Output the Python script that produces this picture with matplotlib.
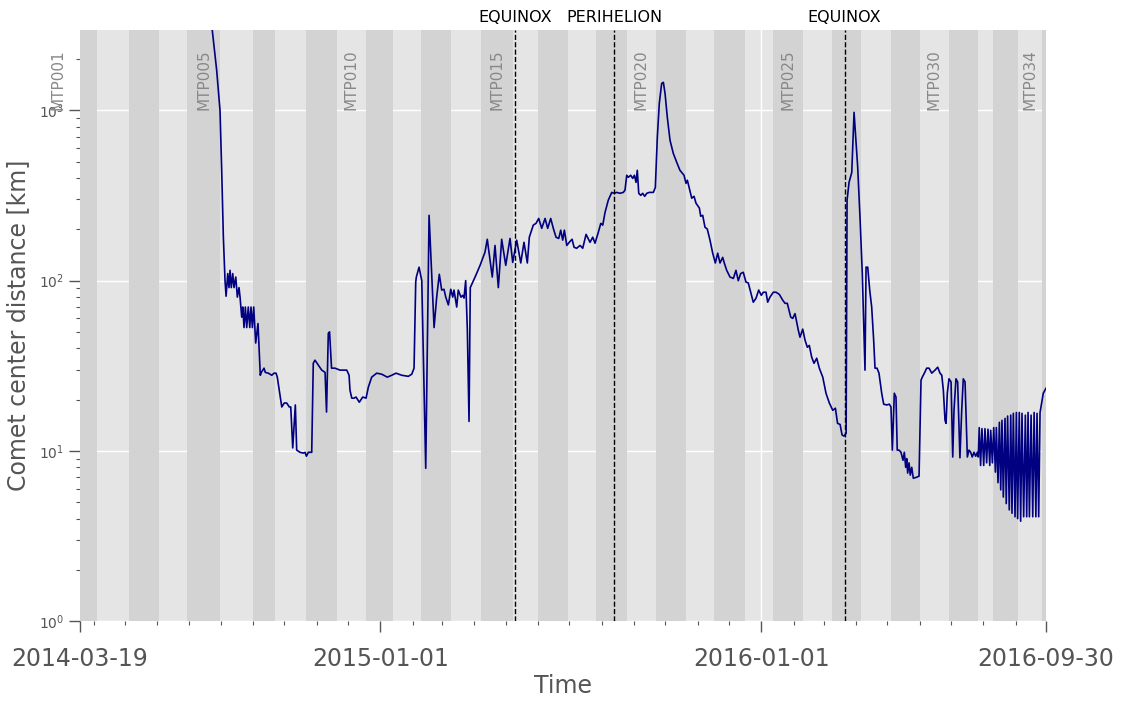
import pandas as pd
import matplotlib
matplotlib.use("Agg")
import matplotlib.pyplot as plt
import matplotlib.dates as mdates

# distance of the spacecraft to the comet centre
# day = days after 2014-03-19
day = [120.0, 126.8, 131.0, 134.2, 135.8, 137.4, 139.0, 140.0, 141.6, 142.8,
       143.8, 145.0, 146.4, 147.6, 149.3, 150.8, 152.4, 153.4, 155.0, 156.0,
       157.2, 158.5, 159.8, 161.3, 162.7, 163.9, 165.2, 166.5, 168.4, 170.6,
       172.8, 173.8, 176.4, 177.6, 180.5, 183.8, 186.0, 187.9, 189.1, 191.0,
       193.4, 195.8, 198.1, 200.6, 202.0, 203.9, 206.4, 207.7, 210.9, 214.1,
       215.7, 217.0, 218.9, 222.1, 223.6, 225.2, 228.4, 231.7, 234.9, 236.3,
       238.0, 239.2, 241.1, 244.4, 249.2, 255.7, 257.9, 258.8, 260.5, 262.7,
       264.6, 267.7, 271.0, 274.2, 276.4, 279.6, 284.4, 289.2, 294.6, 298.8,
       302.9, 308.4, 314.7, 318.0, 320.2, 321.8, 322.4, 325.0, 327.6, 331.4,
       334.6, 339.4, 341.9, 344.4, 346.7, 348.9, 350.6, 353.1, 355.4, 357.3,
       358.5, 361.1, 362.6, 365.2, 366.9, 368.1, 369.7, 371.3, 372.9, 374.1,
       378.7, 383.5, 388.2, 390.4, 393.0, 395.2, 397.8, 401.0, 404.2, 408.1,
       412.2, 414.8, 418.6, 422.5, 425.6, 428.8, 430.7, 434.5, 437.1, 439.7,
       442.6, 445.8, 448.3, 451.2, 453.7, 456.3, 458.9, 460.8, 462.7, 464.3,
       466.6, 469.0, 471.7, 473.6, 476.1, 479.3, 481.9, 485.1, 488.9, 491.5,
       493.7, 496.8, 499.2, 501.1, 503.3, 506.4, 509.7, 511.9, 514.5, 517.6,
       520.8, 522.4, 524.1, 525.6, 527.9, 529.8, 531.4, 533.0, 534.2, 535.6,
       537.5, 539.4, 541.3, 543.3, 545.7, 549.6, 551.5, 553.4, 555.3, 557.6,
       559.2, 560.8, 563.0, 565.6, 568.7, 572.0, 575.1, 579.0, 580.9, 582.2,
       584.1, 586.4, 588.6, 590.5, 593.7, 595.0, 596.9, 599.1, 601.3, 603.9,
       606.5, 609.0, 611.3, 613.5, 616.1, 617.6, 619.9, 623.1, 626.3, 628.8,
       631.0, 633.3, 635.8, 638.4, 640.6, 642.9, 645.4, 648.0, 650.6, 653.1,
       655.0, 657.6, 659.2, 661.4, 664.6, 667.2, 670.4, 673.6, 675.8, 678.0,
       681.3, 683.2, 685.4, 688.6, 690.2, 692.8, 695.0, 697.2, 699.1, 701.4,
       703.6, 706.2, 708.7, 712.0, 715.1, 718.3, 721.6, 724.1, 726.2, 728.6,
       730.5, 732.4, 734.4, 735.3, 737.2, 739.8, 742.0, 743.6, 745.5, 747.7,
       749.9, 752.5, 753.5, 755.1, 757.0, 758.9, 760.8, 762.1, 764.0, 765.9,
       768.5, 770.4, 773.3, 775.8, 777.4, 778.7, 780.6, 782.2, 783.4, 785.1,
       787.0, 788.9, 790.2, 791.5, 792.5, 793.4, 794.7, 795.9, 797.3, 798.8,
       802.1, 804.3, 806.2, 807.4, 809.4, 811.6, 813.9, 816.5, 819.6, 822.2,
       824.4, 826.1, 827.6, 829.2, 830.2, 831.4, 833.0, 835.0, 836.6, 837.8,
       839.7, 841.3, 843.5, 845.2, 846.7, 848.4, 850.6, 852.2, 853.8, 855.3,
       857.0, 858.6, 860.2, 861.1, 862.0, 863.3, 864.6, 866.3, 867.5, 869.1,
       870.4, 872.1, 873.0, 874.6, 875.9, 877.5, 878.4, 880.0, 881.3, 882.6,
       883.8, 885.1, 886.7, 887.9, 889.2, 890.8, 892.2, 893.4, 894.7, 896.3,
       897.6, 898.8, 900.4, 901.7, 903.0, 904.6, 906.2, 907.5, 908.8, 910.1,
       911.7, 913.3, 914.6, 916.3, 917.4, 919.0, 920.3, 921.5, 923.4, 926.0]

dist_km = [5000, 2950, 1720, 1000, 445, 180, 100, 81, 110, 91,
           115, 91, 110, 91, 105, 80, 91, 80, 61, 70,
           53, 70, 53, 70, 53, 70, 53, 70, 43, 56,
           27.8, 28.9, 30.6, 28.9, 28.6, 27.8, 28.6, 28.6, 27.1, 22.7,
           18.1, 19.1, 19.1, 18.1, 18.1, 10.4, 18.6, 10.1, 9.8, 9.7,
           9.8, 9.3, 9.8, 9.8, 32.7, 34.1, 31.9, 29.8, 28.9, 16.9,
           49, 50, 30.6, 30.6, 29.8, 29.8, 27.8, 22.7, 20.4, 20.4,
           20.7, 19.3, 20.7, 20.4, 23.7, 27.1, 28.6, 28.2, 27.1, 27.8,
           28.6, 27.8, 27.4, 28.2, 30.6, 98, 105, 120, 100, 7.9,
           242, 53, 80, 109, 88, 89, 80, 72, 89, 80,
           88, 70, 88, 80, 82, 79, 100, 51, 14.9, 91,
           105, 123, 147, 175, 132, 105, 161, 91, 175, 123,
           177, 128, 173, 127, 168, 127, 180, 212, 217, 232,
           203, 232, 203, 232, 203, 180, 177, 198, 173, 198,
           161, 168, 175, 157, 155, 161, 155, 187, 168, 180,
           166, 192, 217, 212, 252, 297, 330, 326, 330, 326,
           330, 340, 416, 405, 416, 399, 416, 378, 445, 326,
           317, 326, 313, 326, 330, 330, 353, 695, 1100, 1443,
           1463, 1260, 910, 667, 560, 496, 445, 416, 373, 389,
           349, 305, 313, 285, 267, 239, 242, 206, 201, 173,
           145, 127, 145, 127, 137, 127, 115, 105, 103, 115,
           100, 110, 112, 98, 97, 85.5, 74.7, 78.8, 88, 82,
           85.5, 85.5, 74.7, 80, 85.5, 85.5, 83, 76.8, 73.6, 73.6,
           61, 60, 64, 51, 46.5, 51.9, 44.7, 40.6, 41.6, 35.5,
           32.7, 35.0, 30.6, 27.1, 21.8, 19.1, 17.3, 17.8, 14.5, 14.3,
           12.4, 12.2, 12.7, 297, 378, 432, 975, 695, 463, 236,
           110, 29.8, 120, 120, 88, 70, 44.7, 30.6, 30.6, 28.6,
           21.8, 18.8, 18.6, 18.8, 18.1, 10.1, 21.8, 20.7, 10.1, 10.1,
           9.8, 8.8, 9.8, 8.0, 9.0, 7.4, 8.5, 7.2, 8.0, 6.9,
           7.0, 7.1, 26.0, 27.1, 28.6, 30.6, 30.6, 28.6, 29.8, 31.0,
           28.6, 27.8, 22.7, 15.1, 14.5, 21.8, 26.5, 25.4, 9.2, 17.3,
           26.5, 25.4, 9.1, 17.3, 26.5, 25.4, 9.2, 10.1, 9.8, 9.2,
           9.8, 9.3, 9.8, 9.2, 13.7, 8.2, 13.5, 8.2, 13.5, 8.5,
           13.4, 8.2, 13.2, 8.5, 13.7, 7.5, 13.7, 6.5, 14.7, 5.9,
           15.1, 5.35, 15.5, 4.9, 16.0, 4.5, 16.2, 4.3, 16.6, 4.1,
           16.8, 4.0, 16.8, 3.86, 16.6, 4.1, 16.2, 4.1, 16.8, 4.1,
           16.2, 4.1, 16.8, 4.1, 16.6, 4.1, 16.8, 18.6, 21.8, 23.3]

# medium term planning periods (start dates)
mtp_starts = ["2014-01-20", "2014-04-04", "2014-05-05", "2014-06-03", "2014-06-30",
              "2014-07-31", "2014-09-01", "2014-09-22", "2014-10-22", "2014-11-20",
              "2014-12-18", "2015-01-13", "2015-02-09", "2015-03-10", "2015-04-07",
              "2015-05-08", "2015-06-01", "2015-06-30", "2015-07-27", "2015-08-25",
              "2015-09-22", "2015-10-21", "2015-11-17", "2015-12-16", "2016-01-12",
              "2016-02-10", "2016-03-09", "2016-04-06", "2016-05-04", "2016-06-01",
              "2016-06-29", "2016-07-27", "2016-08-10", "2016-09-03", "2016-09-26",
              "2016-10-20"]
mtp_labelled = [1, 5, 10, 15, 20, 25, 30, 34]

event_dates = ["2015-05-10", "2015-08-13", "2016-03-21"]
event_names = ["EQUINOX", "PERIHELION", "EQUINOX"]

t0 = pd.Timestamp("2014-03-19")
t1 = pd.Timestamp("2016-09-30")
major_dates = ["2014-03-19", "2015-01-01", "2016-01-01", "2016-09-30"]

plt.rcParams['font.family'] = ['DejaVu Sans']
txt = '#555555'

fig = plt.figure(figsize=(11.24, 7.01), dpi=100)
ax = fig.add_axes([0.0712, 0.1141, 0.8594, 0.8431])
ax.set_facecolor('#E5E5E5')
for s in ax.spines.values():
    s.set_visible(False)
ax.set_axisbelow(True)
ax.grid(True, which='major', color='white', lw=1.0)

# MTP bands: odd ones darker
starts = pd.to_datetime(mtp_starts)
for i in range(len(starts) - 1):
    num = i + 1
    if num % 2 == 1:
        ax.axvspan(starts[i], starts[i + 1], color='#D3D3D3', lw=0, zorder=1)
    if num in mtp_labelled:
        mid = starts[i] + (starts[i + 1] - starts[i]) / 2
        ax.text(mid, 1000, "MTP%03d" % num, rotation=90, ha='center', va='bottom',
                fontsize=11, color='#888888', zorder=2)

dates = t0 + pd.to_timedelta(day, unit='D')
ax.plot(dates, dist_km, color='navy', lw=1.2, zorder=3)

for d, name in zip(event_dates, event_names):
    d = pd.Timestamp(d)
    ax.axvline(d, color='black', ls='--', lw=1.0, zorder=4)
    ax.text(d, 1.008, name, transform=ax.get_xaxis_transform(), ha='center',
            va='bottom', fontsize=11.5, color='black')

ax.set_yscale('log')
ax.set_ylim(1, 2970)
ax.set_xlim(t0, t1)

ax.set_xticks(pd.to_datetime(major_dates))
ax.xaxis.set_major_formatter(mdates.DateFormatter('%Y-%m-%d'))
ax.xaxis.set_minor_locator(mdates.MonthLocator())

ax.tick_params(axis='x', which='major', direction='out', length=8, width=1,
               colors=txt, labelsize=17, pad=11)
ax.tick_params(axis='x', which='minor', direction='out', length=3, width=0.8, colors=txt)
ax.tick_params(axis='y', which='major', direction='out', length=8, width=1,
               colors=txt, labelsize=10)
ax.tick_params(axis='y', which='minor', direction='out', length=3, width=0.8, colors=txt)
ax.tick_params(top=False, right=False, which='both')

ax.set_xlabel("Time", fontsize=17, color=txt, labelpad=2)
ax.set_ylabel("Comet center distance [km]", fontsize=17, color=txt, labelpad=6)

fig.savefig("out.png", dpi=100)
